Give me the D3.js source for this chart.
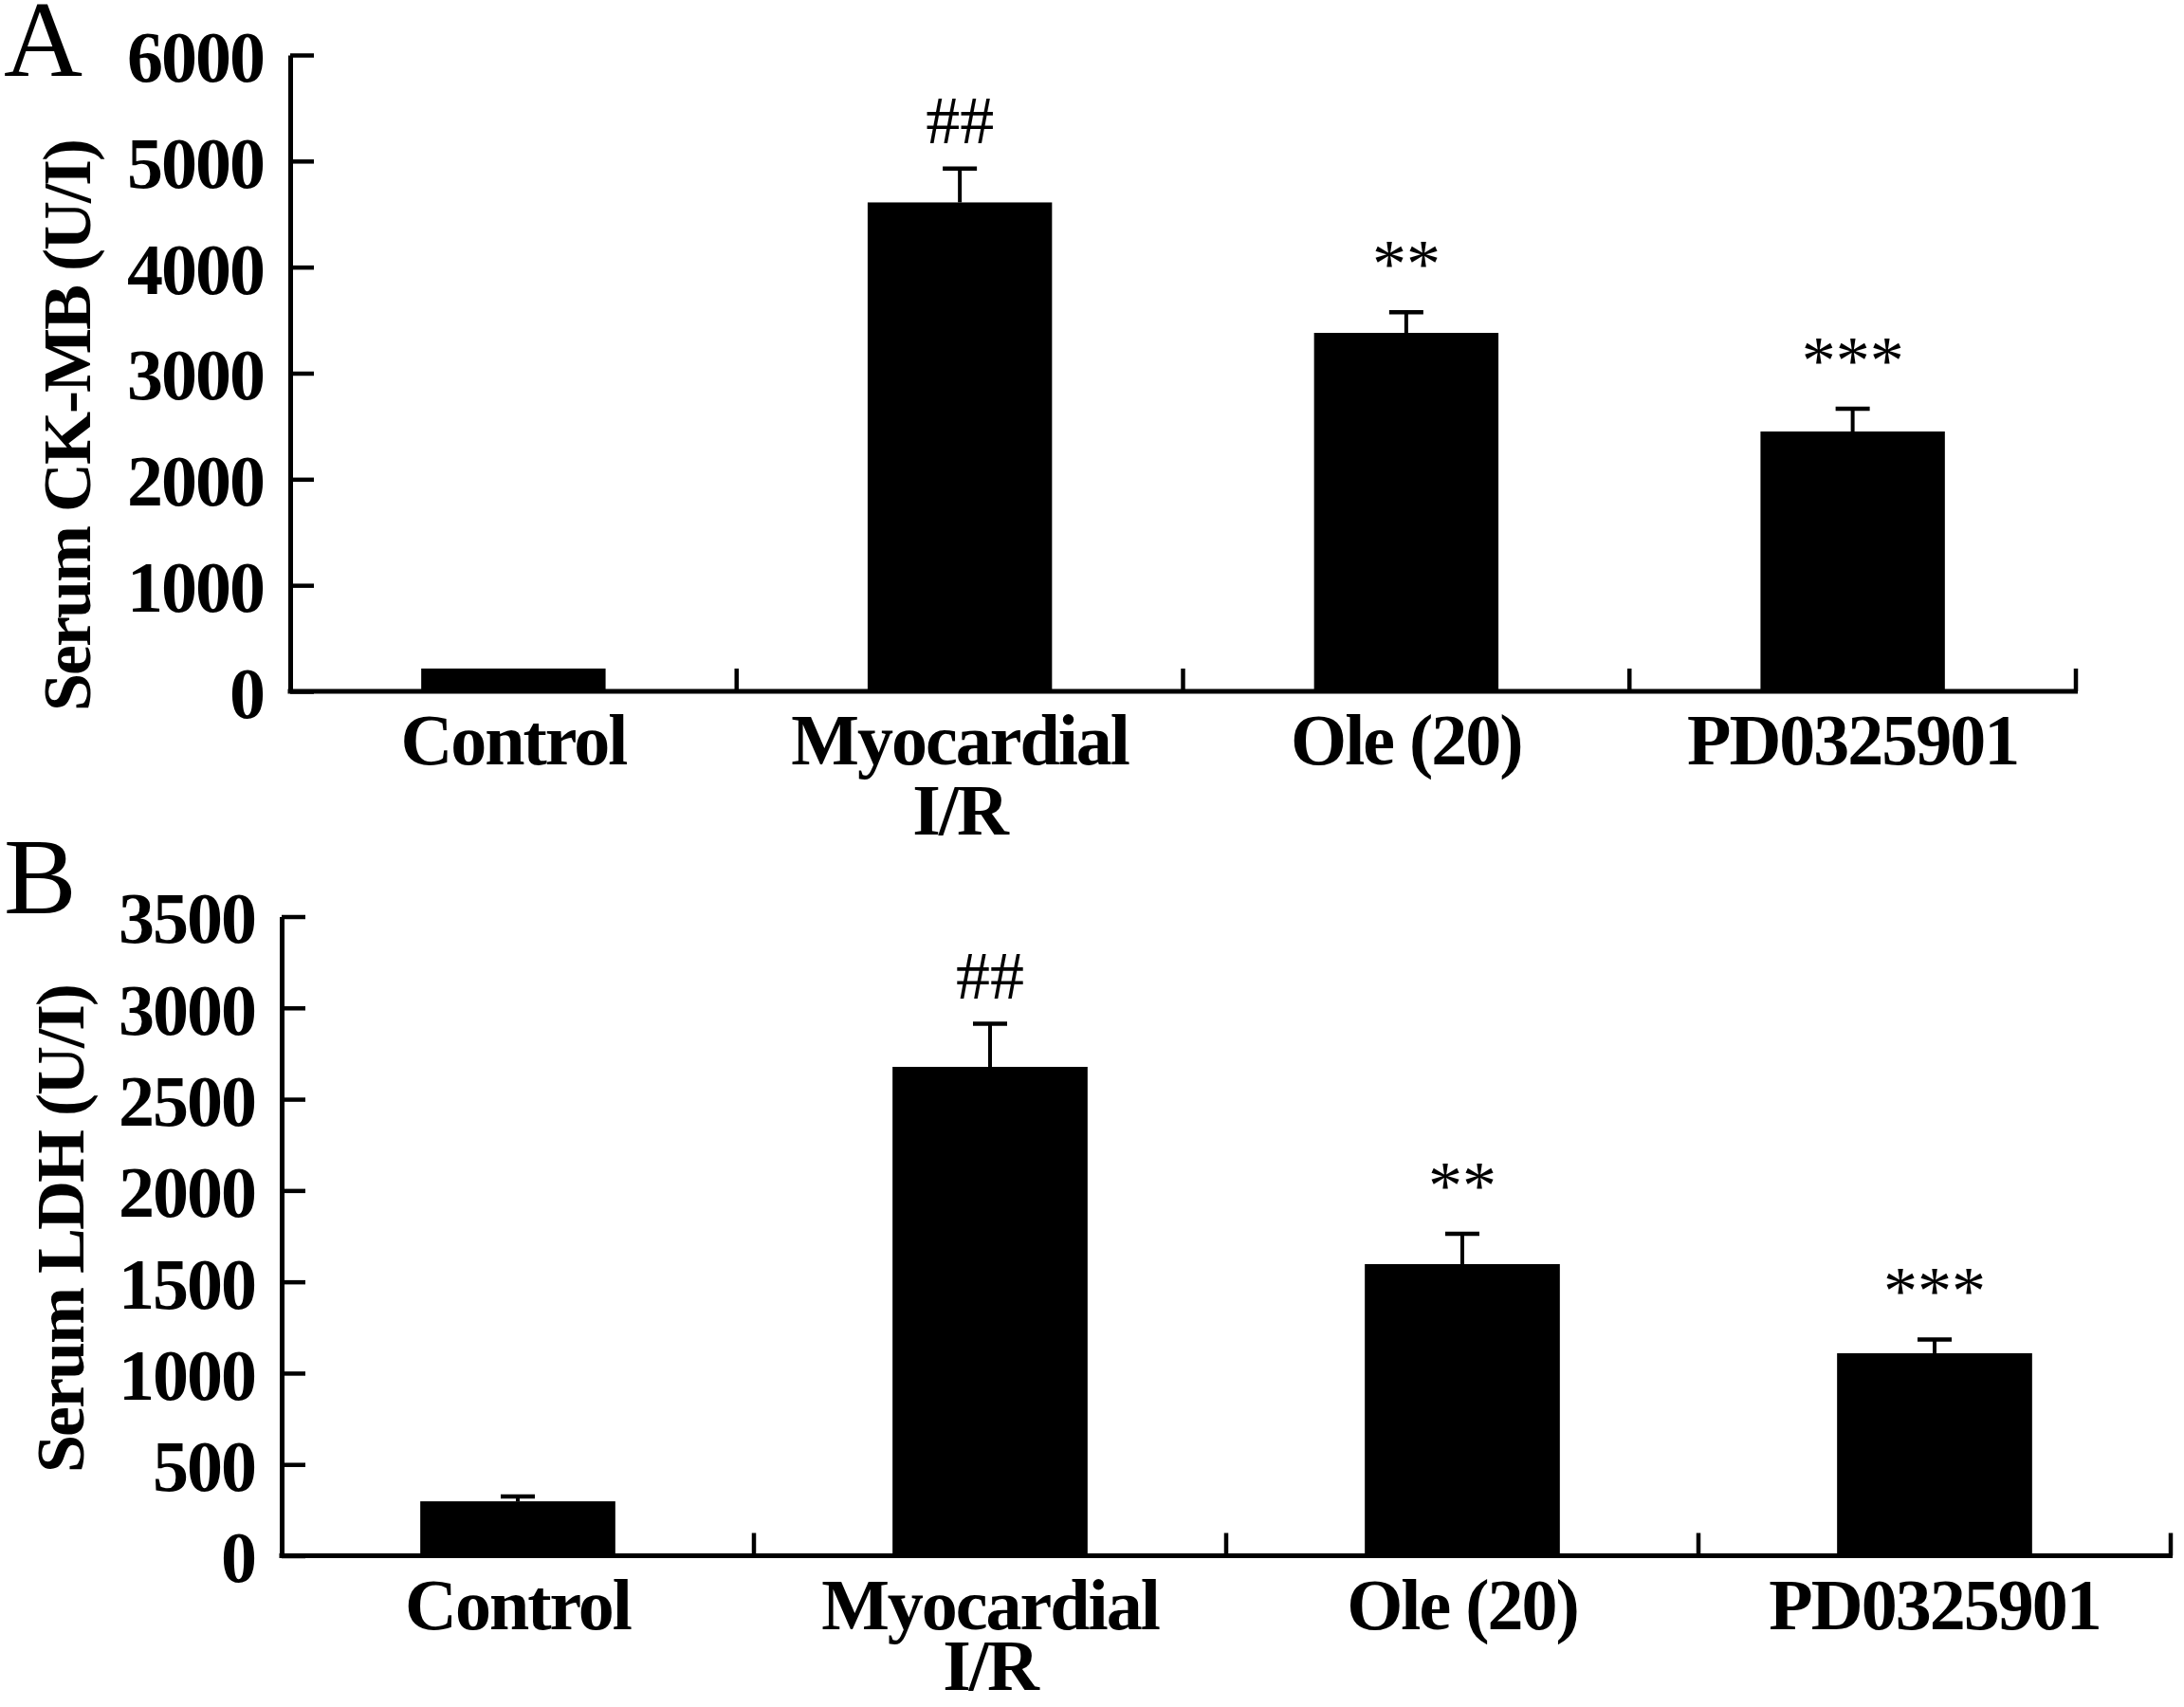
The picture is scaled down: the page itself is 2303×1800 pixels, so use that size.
<!DOCTYPE html>
<html>
<head>
<meta charset="utf-8">
<script src="https://cdn.jsdelivr.net/npm/d3@7"></script>
<style>
body { margin: 0; background: #fff; }
text { font-family: "Liberation Serif", "Times New Roman", serif; fill: #000; }
</style>
</head>
<body>
<div id="chart"></div>
<script>
// groups on the x axis (second line of a label goes under the first)
var categories = ["Control", "Myocardial I/R", "Ole (20)", "PD0325901"];
var categoryLines = [["Control"], ["Myocardial", "I/R"], ["Ole (20)"], ["PD0325901"]];

// panel A: serum CK-MB (U/I), mean and upper error
var ckmbMean = [215, 4610, 3380, 2450];
var ckmbErr = [0, 320, 195, 215];
var ckmbTicks = [0, 1000, 2000, 3000, 4000, 5000, 6000];

// panel B: serum LDH (U/I)
var ldhMean = [298, 2677, 1597, 1109];
var ldhErr = [27, 236, 166, 75];
var ldhTicks = [0, 500, 1000, 1500, 2000, 2500, 3000, 3500];

// significance marks above each bar
var marks = ["", "##", "**", "***"];

var svgWidth = 2303;
var svgHeight = 1800;

var svg = d3.select("#chart")
            .append("svg")
            .attr("width", svgWidth)
            .attr("height", svgHeight);

var panels = [
  { letter: "A", title: "Serum CK-MB (U/I)", mean: ckmbMean, err: ckmbErr, ticks: ckmbTicks,
    left: 306, right: 2189, top: 58, bottom: 729, letterY: 80, titleX: 95, titleY: 449, labelStep: 74 },
  { letter: "B", title: "Serum LDH (U/I)", mean: ldhMean, err: ldhErr, ticks: ldhTicks,
    left: 297, right: 2289, top: 966.5, bottom: 1640.5, letterY: 963, titleX: 88, titleY: 1296, labelStep: 64 }
];

function drawPanel(p) {
  var g = svg.append("g");

  var yScale = d3.scaleLinear()
    .domain([0, d3.max(p.ticks)])
    .range([p.bottom, p.top]);

  var xScale = d3.scaleBand()
    .domain(categories)
    .range([p.left, p.right]);

  var bw = xScale.bandwidth();
  var barW = bw * 0.413;
  var capW = 36;

  var data = categories.map(function(c, i) {
    return { cat: c, lines: categoryLines[i], mean: p.mean[i], err: p.err[i], mark: marks[i] };
  });

  // bars
  g.selectAll(".bar")
    .data(data)
    .enter()
    .append("rect")
    .attr("class", "bar")
    .attr("x", d => xScale(d.cat) + (bw - barW) / 2)
    .attr("y", d => yScale(d.mean))
    .attr("width", barW)
    .attr("height", d => yScale(0) - yScale(d.mean))
    .attr("fill", "#000");

  // error bars (upper only)
  var eb = g.selectAll(".err")
    .data(data.filter(d => d.err > 0))
    .enter()
    .append("g")
    .attr("class", "err");

  eb.append("line")
    .attr("x1", d => xScale(d.cat) + bw / 2)
    .attr("x2", d => xScale(d.cat) + bw / 2)
    .attr("y1", d => yScale(d.mean))
    .attr("y2", d => yScale(d.mean + d.err))
    .attr("stroke", "#000")
    .attr("stroke-width", 4);

  eb.append("line")
    .attr("x1", d => xScale(d.cat) + bw / 2 - capW / 2)
    .attr("x2", d => xScale(d.cat) + bw / 2 + capW / 2)
    .attr("y1", d => yScale(d.mean + d.err))
    .attr("y2", d => yScale(d.mean + d.err))
    .attr("stroke", "#000")
    .attr("stroke-width", 4.5);

  // significance marks
  g.selectAll(".mark")
    .data(data.filter(d => d.mark !== ""))
    .enter()
    .append("text")
    .attr("class", "mark")
    .attr("x", d => xScale(d.cat) + bw / 2)
    .attr("y", d => yScale(d.mean + d.err) - 27)
    .attr("text-anchor", "middle")
    .style("font-size", "72px")
    .text(d => d.mark);

  // y axis, ticks pointing inward
  var leftAxis = d3.axisLeft(yScale)
    .tickValues(p.ticks)
    .tickSizeInner(-25)
    .tickSizeOuter(0)
    .tickPadding(28)
    .tickFormat(d3.format("d"));

  var yAxis = g.append("g")
    .attr("transform", `translate(${p.left}, 0)`)
    .call(leftAxis);

  yAxis.select(".domain").attr("stroke-width", 5);
  yAxis.selectAll(".tick line").attr("stroke-width", 4.5);
  yAxis.selectAll(".tick text")
    .attr("dy", "0.36em")
    .attr("font-family", null)
    .style("font-size", "76px")
    .style("font-weight", "bold")
    .style("letter-spacing", "-2px");

  // x axis line with ticks at group boundaries
  g.append("line")
    .attr("x1", p.left - 2.5)
    .attr("x2", p.right + 2)
    .attr("y1", yScale(0))
    .attr("y2", yScale(0))
    .attr("stroke", "#000")
    .attr("stroke-width", 5);

  g.selectAll(".xtick")
    .data(categories)
    .enter()
    .append("line")
    .attr("class", "xtick")
    .attr("x1", d => xScale(d) + bw)
    .attr("x2", d => xScale(d) + bw)
    .attr("y1", yScale(0))
    .attr("y2", yScale(0) - 24)
    .attr("stroke", "#000")
    .attr("stroke-width", 4.5);

  // category labels
  var labels = g.selectAll(".xlabel")
    .data(data)
    .enter()
    .append("text")
    .attr("class", "xlabel")
    .attr("text-anchor", "middle")
    .style("font-size", "76px")
    .style("font-weight", "bold")
    .style("letter-spacing", "-2px");

  labels.selectAll("tspan")
    .data(d => d.lines.map(l => ({ text: l, x: xScale(d.cat) + bw / 2 })))
    .enter()
    .append("tspan")
    .attr("x", t => t.x)
    .attr("y", (t, i) => yScale(0) + 77 + i * p.labelStep)
    .text(t => t.text);

  // y axis title
  g.append("text")
    .attr("transform", `translate(${p.titleX}, ${p.titleY}) rotate(-90)`)
    .attr("text-anchor", "middle")
    .style("font-size", "72px")
    .style("font-weight", "bold")
    .style("letter-spacing", "-2px")
    .text(p.title);

  // panel letter
  g.append("text")
    .attr("x", 4)
    .attr("y", p.letterY)
    .style("font-size", "115px")
    .text(p.letter);
}

panels.forEach(drawPanel);
</script>
</body>
</html>
